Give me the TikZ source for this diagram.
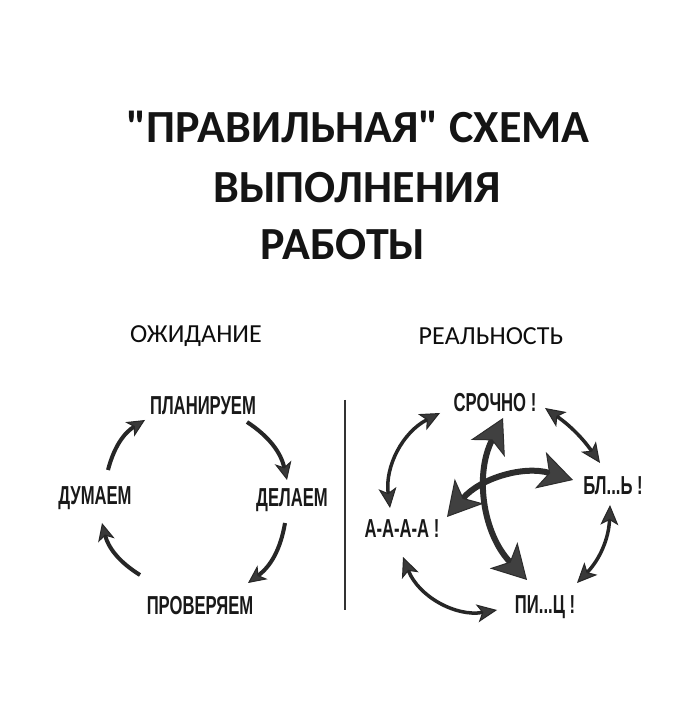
\documentclass[tikz,border=0pt]{standalone}
\usepackage{fontspec}
\setmainfont{Carlito}
\newfontfamily\titlefont{Carlito}
\newfontfamily\stencil[FakeStretch=0.64]{Liberation Sans}
\usetikzlibrary{arrows.meta}

\begin{document}
\begin{tikzpicture}[x=1pt,y=1pt,
    title/.style={font=\titlefont\bfseries\fontsize{46}{46}\selectfont, text=black!92, inner sep=0pt},
    head/.style={font=\fontsize{26}{26}\selectfont, text=black!95, inner sep=0pt},
    lbl/.style={font=\stencil\bfseries\fontsize{26}{26}\selectfont, text=black!90,
        text height=18.5pt, text depth=0pt, inner sep=2pt},
    cyc/.style={line width=4pt, draw=black!85,
        -{Stealth[length=18pt,width=17pt,inset=5pt,fill=gray!45!black,line width=1pt]}},
    both/.style={line width=3.5pt, draw=black!85,
        {Stealth[length=20pt,width=18pt,inset=5pt,fill=gray!45!black,line width=1pt]}-{Stealth[length=20pt,width=18pt,inset=5pt,fill=gray!45!black,line width=1pt]}},
    big/.style={line width=6pt, draw=gray!35!black,
        {Stealth[length=34pt,width=38pt,inset=9pt,fill=gray!50!black,line width=1pt]}-{Stealth[length=34pt,width=38pt,inset=9pt,fill=gray!50!black,line width=1pt]}}
]
    \useasboundingbox[fill=white] (0,0) rectangle (685,708);

    % Title
    \node[title] (t1) at (358,581) {"ПРАВИЛЬНАЯ" СХЕМА};
    \node[title] (t2) at (357,520) {ВЫПОЛНЕНИЯ};
    \node[title] (t3) at (343,463) {РАБОТЫ};

    % Column headers
    \node[head] (hexp) at (196,372) {ОЖИДАНИЕ};
    \node[head] (hreal) at (491,372) {РЕАЛЬНОСТЬ};

    % Divider
    \draw[line width=1.2pt, black!80] (345,308) -- (345,98);

    % Expectation: the cycle
    \node[lbl] (plan) at (203,303) {ПЛАНИРУЕМ};
    \node[lbl] (dela) at (292,211) {ДЕЛАЕМ};
    \node[lbl] (prov) at (200,103) {ПРОВЕРЯЕМ};
    \node[lbl] (dum)  at (95,213)  {ДУМАЕМ};

    \draw[cyc] ([shift={(13,25)}]dum.center) to[bend left=22] ([shift={(-58,-15)}]plan.center);
    \draw[cyc] ([shift={(44,-17)}]plan.center) to[bend left=22] ([shift={(-5,17)}]dela.center);
    \draw[cyc] ([shift={(-7,-26)}]dela.center) to[bend left=22] ([shift={(48,22)}]prov.center);
    \draw[cyc] ([shift={(-60,30)}]prov.center) to[bend left=22] ([shift={(7,-28)}]dum.center);

    % Reality: everything at once
    \node[lbl] (sroch) at (495,306) {СРОЧНО !};
    \node[lbl] (bl)    at (613,223) {БЛ...Ь !};
    \node[lbl] (aaaa)  at (402,180) {А-А-А-А !};
    \node[lbl] (pi)    at (545,104) {ПИ...Ц !};

    \draw[both] ([shift={(-55,-11)}]sroch.center) to[bend right=35] ([shift={(-12,20)}]aaaa.center);
    \draw[both] ([shift={(50,-6)}]sroch.center) to[bend left=10] ([shift={(-13,22)}]bl.center);
    \draw[both] ([shift={(-3,-20)}]bl.center) to[bend left=21] ([shift={(32,21)}]pi.center);
    \draw[both] ([shift={(1,-29)}]aaaa.center) to[bend right=39] ([shift={(-48,-6)}]pi.center);

    \draw[big] ([shift={(8,-16)}]sroch.center) to[bend right=35] ([shift={(-18,24)}]pi.center);
    \draw[big] ([shift={(45,11)}]aaaa.center) to[bend left=33] ([shift={(-40,5)}]bl.center);
\end{tikzpicture}
\end{document}
